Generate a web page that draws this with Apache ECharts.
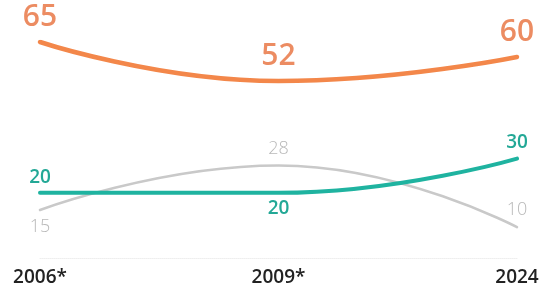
<!DOCTYPE html>
<html>
<head>
<meta charset="utf-8">
<script src="https://cdn.jsdelivr.net/npm/echarts@6/dist/echarts.min.js"></script>
<style>
  html, body { margin: 0; padding: 0; background: #fff; }
  #chart { width: 543px; height: 294px; }
</style>
</head>
<body>
<div id="chart"></div>
<script>
const years = ['2006*', '2009*', '2024'];
const orangeValues = [65, 52, 60];
const tealValues = [20, 20, 30];
const grayValues = [15, 28, 10];

// label placement per point (above / below the line)
const tealLabelPos = ['top', 'bottom', 'top'];
const grayLabelPos = ['bottom', 'top', 'top'];

const chart = echarts.init(document.getElementById('chart'));

function withLabels(values, positions) {
    return values.map((v, i) => ({ value: v, label: { position: positions[i] } }));
}

chart.setOption({
    animation: false,
    grid: { left: 40, right: 26, top: 42, bottom: 36 },
    xAxis: {
        type: 'category',
        data: years,
        boundaryGap: false,
        axisLine: { show: true, onZero: false, lineStyle: { color: '#eeeeee', type: 'dotted', width: 1 } },
        axisTick: { show: false },
        splitLine: { show: false },
        axisLabel: {
            color: '#222',
            fontFamily: 'Open Sans',
            fontWeight: 600,
            fontSize: 19,
            margin: 10
        }
    },
    yAxis: [
        { type: 'value', min: -7, max: 65, show: false },
        { type: 'value', min: 1, max: 64, show: false }
    ],
    series: [
        {
            name: 'orange',
            type: 'line',
            yAxisIndex: 0,
            smooth: 0.5,
            symbol: 'circle',
            symbolSize: 0,
            showSymbol: true,
            data: orangeValues,
            lineStyle: { color: '#f3874a', width: 4.5, cap: 'round' },
            label: {
                show: true,
                position: 'top',
                distance: 10,
                color: '#ec8c62',
                fontFamily: 'Open Sans',
                fontWeight: 600,
                fontSize: 30
            }
        },
        {
            name: 'gray',
            type: 'line',
            yAxisIndex: 1,
            smooth: 0.5,
            symbol: 'circle',
            symbolSize: 0,
            showSymbol: true,
            data: withLabels(grayValues, grayLabelPos),
            lineStyle: { color: '#c9c9c9', width: 2.5, cap: 'round' },
            label: {
                show: true,
                distance: 8,
                color: '#b8b8b8',
                fontFamily: 'Open Sans',
                fontWeight: 300,
                fontSize: 18
            }
        },
        {
            name: 'teal',
            type: 'line',
            yAxisIndex: 1,
            smooth: 0.5,
            symbol: 'circle',
            symbolSize: 0,
            showSymbol: true,
            data: withLabels(tealValues, tealLabelPos),
            lineStyle: { color: '#1fb3a0', width: 4, cap: 'round' },
            label: {
                show: true,
                distance: 6,
                color: '#23a896',
                fontFamily: 'Open Sans',
                fontWeight: 600,
                fontSize: 19
            }
        }
    ]
});
</script>
</body>
</html>
